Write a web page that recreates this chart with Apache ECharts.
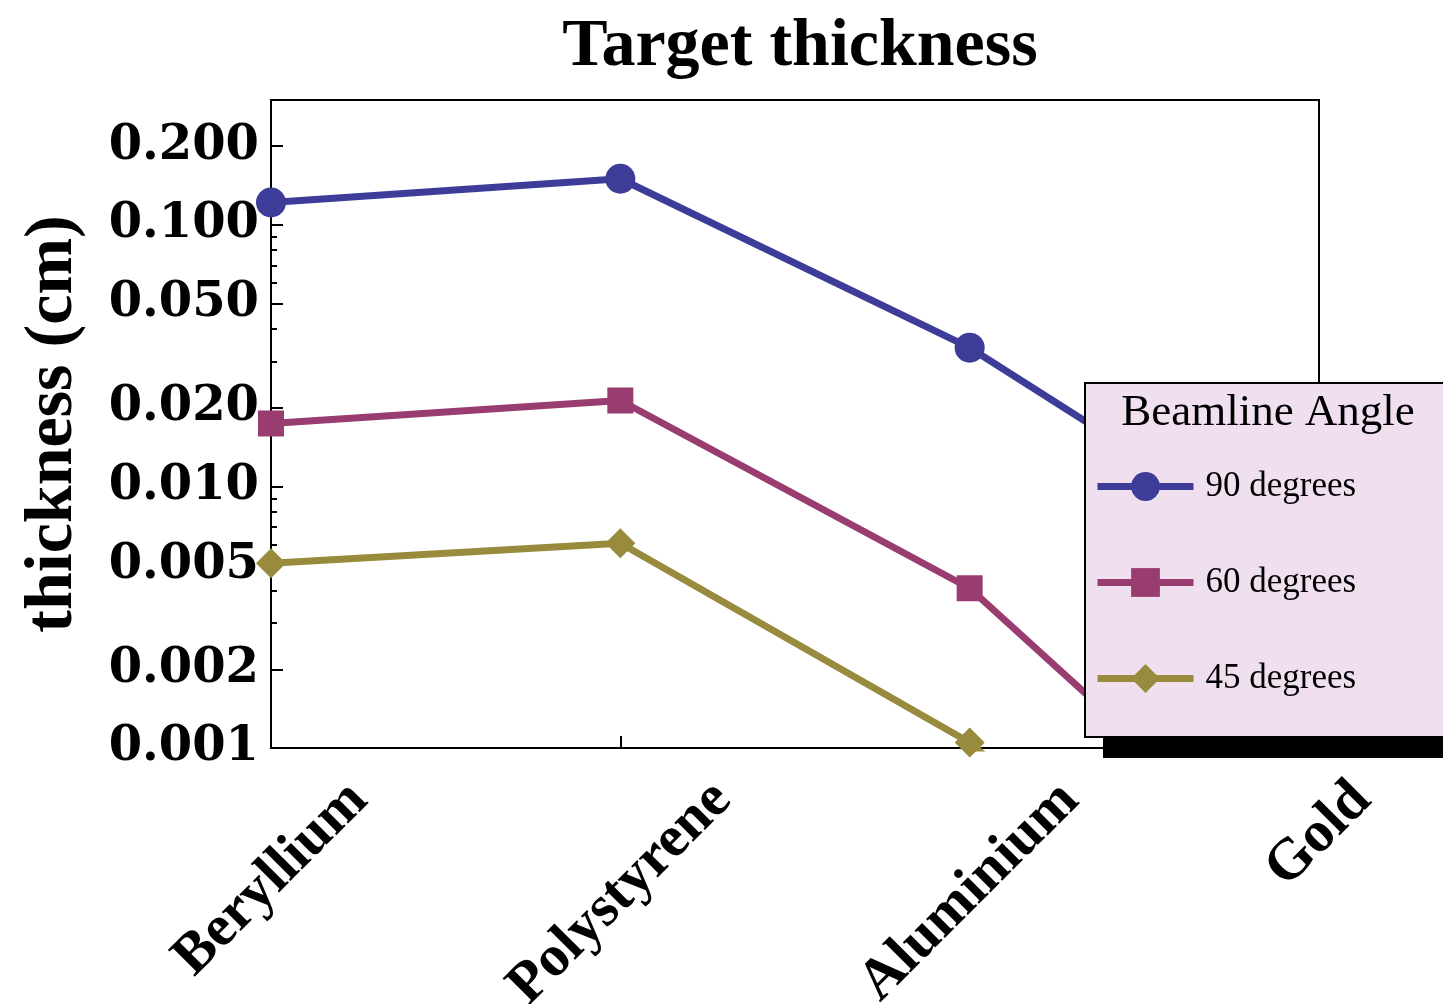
<!DOCTYPE html>
<html>
<head>
<meta charset="utf-8">
<script src="https://cdn.jsdelivr.net/npm/echarts@6/dist/echarts.min.js"></script>
<style>
  html, body { margin: 0; padding: 0; background: #ffffff; }
  #chart { width: 1443px; height: 1004px; }
</style>
</head>
<body>
<div id="chart"></div>
<script>
// Target materials along the x axis
const materials = ['Beryllium', 'Polystyrene', 'Aluminium', 'Gold'];

// Thickness (cm) per beamline angle
const angle90 = [0.1217, 0.150, 0.0339, 0.0048];
const angle60 = [0.0174, 0.0213, 0.00408, 0.00025];
const angle45 = [0.00508, 0.00606, 0.00105, 0.00007];

const seriesNames = ['90 degrees', '60 degrees', '45 degrees'];

// Log-axis tick positions
const majorTicks = [0.001, 0.002, 0.005, 0.01, 0.02, 0.05, 0.1, 0.2];
const minorTicks = [0.003, 0.004, 0.006, 0.007, 0.008, 0.009, 0.03, 0.04, 0.06, 0.07, 0.08, 0.09];

const serif = '"Liberation Serif", "Times New Roman", serif';
const tickFamily = '"DejaVu Serif", serif';
const colors = ['#3D3D99', '#993D71', '#998B3D'];

// Rotated category labels are centred under their tick with the top of the
// rotated box on a common line; rich padding shifts each label accordingly.
const xLabelSize = 58;
const measureCtx = document.createElement('canvas').getContext('2d');
measureCtx.font = 'bold ' + xLabelSize + 'px "Liberation Serif"';
const xRich = {};
materials.forEach(function (m, i) {
  const L = measureCtx.measureText(m).width;
  const p = Math.round(0.5 * (L + xLabelSize));
  xRich['m' + i] = {
    padding: [p, p, 0, 0],
    fontFamily: serif, fontWeight: 'bold', fontSize: xLabelSize, color: '#000'
  };
});

function lineSeries(name, data, symbol, size, color) {
  return {
    name: name,
    type: 'line',
    data: data,
    yAxisIndex: 0,
    symbol: symbol,
    symbolSize: size,
    clip: true,
    color: color,
    lineStyle: { width: 7, color: color },
    itemStyle: { color: color },
    emphasis: { disabled: true }
  };
}

const chart = echarts.init(document.getElementById('chart'));
chart.setOption({
  animation: false,
  backgroundColor: '#ffffff',
  title: [
    {
      text: 'Target thickness',
      left: 795, top: 8, textAlign: 'center',
      textStyle: { fontFamily: serif, fontWeight: 'bold', fontSize: 68, color: '#000' }
    },
    {
      text: 'Beamline Angle',
      left: 1263, top: 386, textAlign: 'center', z: 10,
      textStyle: { fontFamily: serif, fontWeight: 'normal', fontSize: 45, color: '#000' }
    }
  ],
  // drop shadow block behind the legend box
  graphic: [
    {
      type: 'rect', z: 4,
      shape: { x: 1103, y: 401, width: 400, height: 357 },
      style: { fill: '#000' },
      silent: true
    }
  ],
  grid: {
    left: 271, right: 124, top: 100, bottom: 256,
    outerBoundsMode: 'none',
    containLabel: false,
    show: true, borderColor: '#000', borderWidth: 2, backgroundColor: 'transparent'
  },
  legend: {
    orient: 'vertical',
    left: 1085, top: 383,
    data: seriesNames,
    padding: [86, 110, 41, 9],
    itemWidth: 96, itemHeight: 36, itemGap: 61,
    backgroundColor: '#EFDFEF',
    borderColor: '#000', borderWidth: 2,
    lineStyle: { width: 7 },
    textStyle: { fontFamily: serif, fontSize: 35, color: '#000', padding: [0, 0, 0, 7] },
    selectedMode: false,
    z: 5
  },
  xAxis: {
    type: 'category',
    data: materials,
    boundaryGap: false,
    axisLine: { show: true, lineStyle: { color: '#000', width: 2 } },
    axisTick: { show: true, inside: true, length: 12, interval: 0, lineStyle: { color: '#000', width: 2 } },
    splitLine: { show: false },
    axisLabel: {
      interval: 0,
      rotate: 45,
      align: 'center',
      verticalAlign: 'middle',
      margin: 23,
      hideOverlap: false,
      formatter: function (v) { return '{m' + materials.indexOf(v) + '|' + v + '}'; },
      rich: xRich
    }
  },
  yAxis: [
    {
      type: 'log', logBase: 10, min: 0.001, max: 0.3,
      position: 'left',
      name: 'thickness (cm)',
      nameLocation: 'middle', nameRotate: 90, nameGap: 184,
      nameTextStyle: { fontFamily: serif, fontWeight: 'bold', fontSize: 68, color: '#000' },
      axisLine: { show: true, lineStyle: { color: '#000', width: 2 } },
      axisTick: { show: true, inside: true, length: 12, customValues: majorTicks,
                  lineStyle: { color: '#000', width: 2 } },
      axisLabel: {
        customValues: majorTicks,
        margin: 12,
        fontFamily: tickFamily, fontWeight: 'bold', fontSize: 48, color: '#000',
        formatter: function (v) { return Number(v).toFixed(3); }
      },
      splitLine: { show: false },
      minorTick: { show: false }
    },
    {
      type: 'log', logBase: 10, min: 0.001, max: 0.3,
      position: 'left',
      axisLine: { show: false },
      axisTick: { show: true, inside: true, length: 6, customValues: minorTicks,
                  lineStyle: { color: '#000', width: 2 } },
      axisLabel: { show: false },
      splitLine: { show: false }
    }
  ],
  series: [
    lineSeries(seriesNames[0], angle90, 'circle', 30, colors[0]),
    lineSeries(seriesNames[1], angle60, 'rect', 26, colors[1]),
    lineSeries(seriesNames[2], angle45, 'diamond', 30, colors[2])
  ]
});
</script>
</body>
</html>
